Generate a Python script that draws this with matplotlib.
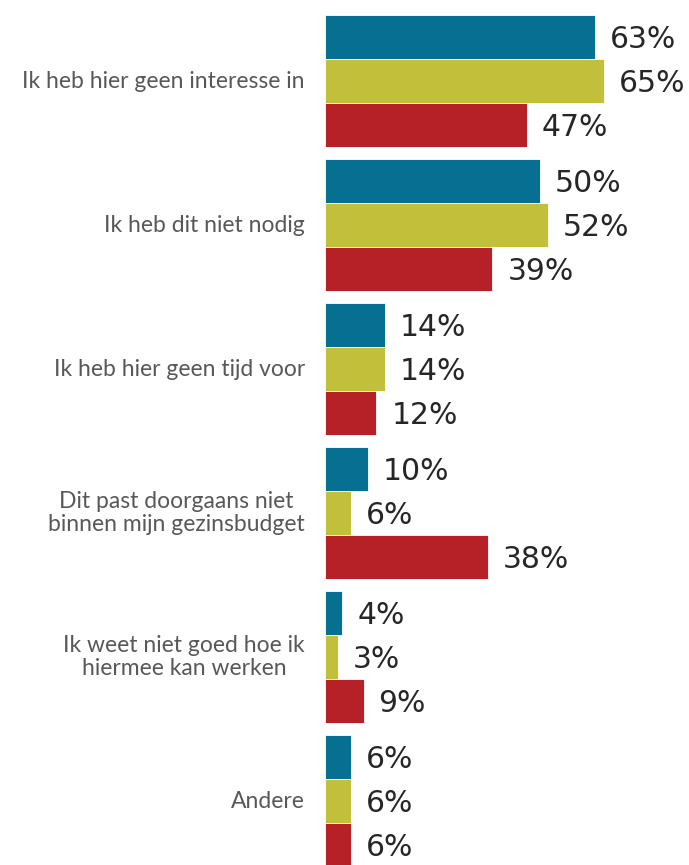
import matplotlib.pyplot as plt
import numpy as np

categories = ["Ik heb hier geen interesse in",
              "Ik heb dit niet nodig",
              "Ik heb hier geen tijd voor",
              "Dit past doorgaans niet\nbinnen mijn gezinsbudget",
              "Ik weet niet goed hoe ik\nhiermee kan werken",
              "Andere"]
serie_blauw = [63, 50, 14, 10, 4, 6]
serie_geel = [65, 52, 14, 6, 3, 6]
serie_rood = [47, 39, 12, 38, 9, 6]

kleuren = ["#066f92", "#c2bf3a", "#b52127"]

fig = plt.figure(figsize=(6.89, 8.65), dpi=100)
ax = fig.add_axes([0, 0, 1, 1])

px_per_pct = 4.29
ax.set_xlim(-325 / px_per_pct, (689 - 325) / px_per_pct)
# 144 px per group, groups centred at 81 + 144*i from the top
ax.set_ylim((865 - 81) / 144, -81 / 144)

h = 44 / 144
y = np.arange(len(categories))
for k, (vals, kleur) in enumerate(zip([serie_blauw, serie_geel, serie_rood], kleuren)):
    pos = y + (k - 1) * h
    ax.barh(pos, vals, height=h, color=kleur, edgecolor="white", linewidth=0.6)
    for p, v in zip(pos, vals):
        ax.text(v + 15 / px_per_pct, p + 0.02, f"{v}%", va="center", ha="left",
                fontsize=21.5, color="#262626", family="DejaVu Sans")

for yi, cat in zip(y, categories):
    ax.text(-20 / px_per_pct, yi, cat, va="center", ha="right", multialignment="center",
            fontsize=16.5, color="#585858", family="Lato", linespacing=1.15)

ax.axis("off")
fig.savefig("out.png", dpi=100)
